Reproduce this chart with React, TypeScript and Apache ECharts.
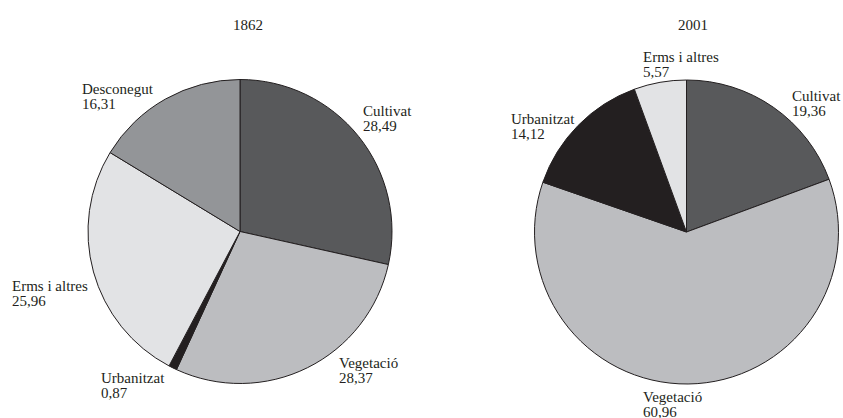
import React, { useEffect, useRef } from "react";
import * as echarts from "echarts";

const categories1862 = ["Cultivat", "Vegetació", "Urbanitzat", "Erms i altres", "Desconegut"];
const values1862 = [28.49, 28.37, 0.87, 25.96, 16.31];
const categories2001 = ["Cultivat", "Vegetació", "Urbanitzat", "Erms i altres"];
const values2001 = [19.36, 60.96, 14.12, 5.57];
const titles = ["1862", "2001"];

const colorMap: Record<string, string> = {
  Cultivat: "#58595b",
  "Vegetació": "#bcbdc0",
  Urbanitzat: "#231f20",
  "Erms i altres": "#e2e3e5",
  Desconegut: "#939598",
};

// label anchor (top-left) positions, layout only
const labelPos: [number, number][][] = [
  [[363, 103], [339, 355], [101, 370], [12, 278], [82, 81]],
  [[792, 88], [643, 389], [511, 111], [643, 49]],
];

const FONT = "Liberation Serif";
const TEXT = "#231f20";

export default function App() {
  const ref = useRef<HTMLDivElement>(null);
  useEffect(() => {
    if (!ref.current) return;
    const chart = echarts.init(ref.current, undefined, { renderer: "svg" });
    const mk = (cats: string[], vals: number[]) =>
      cats.map((c, i) => ({ name: c, value: vals[i], itemStyle: { color: colorMap[c] } }));
    const txt = { fontFamily: FONT, fontSize: 15, lineHeight: 15, color: TEXT, fontWeight: "normal" as const };
    const seriesBase = {
      type: "pie" as const,
      radius: 152,
      startAngle: 90,
      clockwise: true,
      avoidLabelOverlap: false,
      itemStyle: { borderColor: "#231f20", borderWidth: 1 },
      label: {
        show: true,
        position: "outside" as const,
        formatter: (p: any) => `{t|${p.name}}\n{t|${Number(p.value).toFixed(2).replace(".", ",")}}`,
        ...txt,
        align: "left" as const,
        rich: { t: { ...txt, align: "left" as const } },
      },
      labelLine: { show: false },
      emphasis: { disabled: true },
    };
    const layout = (s: number) => (p: any) => ({
      x: labelPos[s][p.dataIndex][0],
      y: labelPos[s][p.dataIndex][1],
      align: "left",
      verticalAlign: "top",
      fontSize: 15,
    });
    chart.setOption({
      animation: false,
      backgroundColor: "#ffffff",
      textStyle: { fontFamily: FONT, color: TEXT },
      title: [
        { text: titles[0], left: 243, top: 12, textAlign: "center", textStyle: { fontFamily: FONT, fontSize: 15, fontWeight: "normal", color: TEXT } },
        { text: titles[1], left: 688, top: 12, textAlign: "center", textStyle: { fontFamily: FONT, fontSize: 15, fontWeight: "normal", color: TEXT } },
      ],
      series: [
        { ...seriesBase, center: [240, 231.5], data: mk(categories1862, values1862), labelLayout: layout(0) },
        { ...seriesBase, center: [686.5, 232], data: mk(categories2001, values2001), labelLayout: layout(1) },
      ],
    });
    return () => chart.dispose();
  }, []);
  return (
    <div
      ref={ref}
      style={{ position: "fixed", left: 0, top: 0, width: 843, height: 418, background: "#fff" }}
    />
  );
}
